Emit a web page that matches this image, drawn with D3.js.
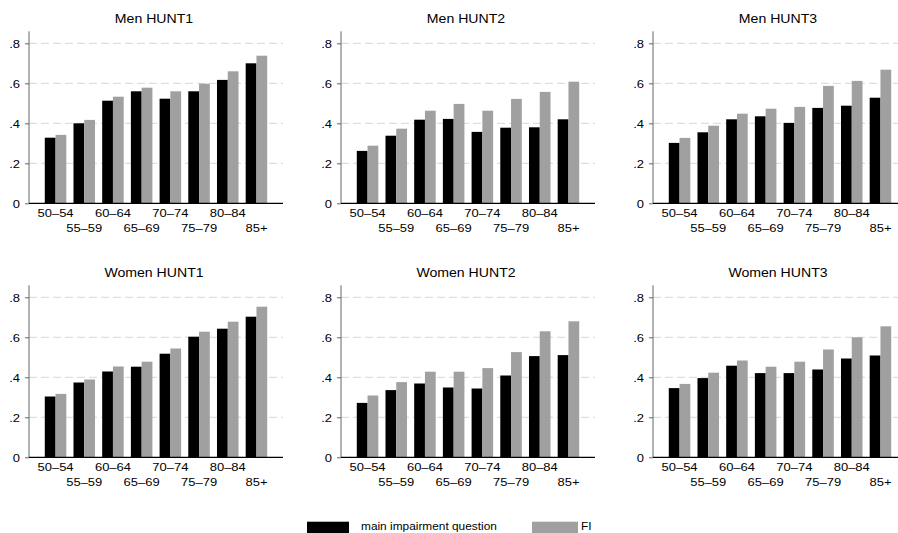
<!DOCTYPE html>
<html>
<head>
<meta charset="utf-8">
<script src="https://cdn.jsdelivr.net/npm/d3@7"></script>
<style>
  body { margin: 0; background: #fff; overflow: hidden; }
  svg { font-family: Arial, "Liberation Sans", sans-serif; display: block; }
</style>
</head>
<body>
<div id="chart"></div>
<script>
// age groups and y ticks
const ageGroups = ["50–54", "55–59", "60–64", "65–69", "70–74", "75–79", "80–84", "85+"];
const yTicks = [0, 0.2, 0.4, 0.6, 0.8];
const seriesNames = ["main impairment question", "FI"];

// panel titles, row by row
const panelTitles = ["Men HUNT1", "Men HUNT2", "Men HUNT3", "Women HUNT1", "Women HUNT2", "Women HUNT3"];

// main impairment question (black bars)
const menHunt1Main = [0.328, 0.400, 0.513, 0.560, 0.523, 0.560, 0.617, 0.700];
const menHunt2Main = [0.262, 0.338, 0.418, 0.422, 0.357, 0.378, 0.380, 0.420];
const menHunt3Main = [0.302, 0.355, 0.420, 0.435, 0.402, 0.477, 0.488, 0.528];
const womenHunt1Main = [0.304, 0.374, 0.429, 0.453, 0.518, 0.603, 0.643, 0.703];
const womenHunt2Main = [0.272, 0.336, 0.369, 0.349, 0.344, 0.409, 0.506, 0.511];
const womenHunt3Main = [0.346, 0.396, 0.458, 0.421, 0.421, 0.439, 0.494, 0.509];

// FI (gray bars)
const menHunt1FI = [0.342, 0.417, 0.533, 0.578, 0.560, 0.598, 0.660, 0.738];
const menHunt2FI = [0.288, 0.373, 0.463, 0.497, 0.463, 0.522, 0.557, 0.608];
const menHunt3FI = [0.327, 0.388, 0.448, 0.473, 0.482, 0.587, 0.612, 0.668];
const womenHunt1FI = [0.317, 0.389, 0.454, 0.478, 0.544, 0.628, 0.678, 0.753];
const womenHunt2FI = [0.309, 0.376, 0.428, 0.428, 0.446, 0.526, 0.630, 0.680];
const womenHunt3FI = [0.367, 0.423, 0.484, 0.453, 0.478, 0.539, 0.600, 0.655];

const mainSeries = [menHunt1Main, menHunt2Main, menHunt3Main, womenHunt1Main, womenHunt2Main, womenHunt3Main];
const fiSeries = [menHunt1FI, menHunt2FI, menHunt3FI, womenHunt1FI, womenHunt2FI, womenHunt3FI];

const width = 898, height = 533;
const colors = ["#000000", "#a0a0a0"];
const stretch = 1.12; // text in the original is a bit wide

const svg = d3.select("#chart")
  .append("svg")
  .attr("width", width)
  .attr("height", height)
  .attr("viewBox", [0, 0, width, height]);

// helper: horizontally stretched text
function wideText(sel, x, y, anchor, size, str) {
  return sel.append("text")
    .attr("transform", `translate(${x},${y}) scale(${stretch},1)`)
    .attr("text-anchor", anchor)
    .attr("font-size", size)
    .text(str);
}

// panel geometry (plot region of each small chart)
const panelW = 254, plotH = 172;
const colX = [29, 341, 653];
const rowBase = [203.3, 457.3];

panelTitles.forEach((title, i) => {
  const left = colX[i % 3];
  const base = rowBase[Math.floor(i / 3)];

  const y = d3.scaleLinear()
    .domain([0, 0.86])
    .range([base, base - plotH]);

  const x = d3.scaleBand()
    .domain(ageGroups)
    .range([left, left + panelW])
    .paddingInner(0.25)
    .paddingOuter(0.55);

  const x1 = d3.scaleBand()
    .domain(seriesNames)
    .range([0, x.bandwidth()]);

  const g = svg.append("g");

  // dashed gridlines
  g.append("g")
    .selectAll("line")
    .data(yTicks.filter(d => d > 0))
    .join("line")
    .attr("x1", left)
    .attr("x2", left + panelW)
    .attr("y1", d => y(d))
    .attr("y2", d => y(d))
    .attr("stroke", "#d8d8d8")
    .attr("stroke-width", 1)
    .attr("stroke-dasharray", "8,4");

  // bars
  const rows = ageGroups.map((a, j) => ({ age: a, vals: [mainSeries[i][j], fiSeries[i][j]] }));
  g.append("g")
    .selectAll("g")
    .data(rows)
    .join("g")
    .attr("transform", d => `translate(${x(d.age)},0)`)
    .selectAll("rect")
    .data(d => d.vals.map((v, k) => ({ key: seriesNames[k], v, k })))
    .join("rect")
    .attr("x", d => x1(d.key))
    .attr("width", x1.bandwidth())
    .attr("y", d => y(d.v))
    .attr("height", d => y(0) - y(d.v))
    .attr("fill", d => colors[d.k]);

  // y axis
  const yAxis = g.append("g")
    .attr("transform", `translate(${left},0)`)
    .call(d3.axisLeft(y).tickValues(yTicks).tickSize(4)
      .tickFormat(d => d === 0 ? "0" : d3.format(".1f")(d).replace(/^0/, "")));
  yAxis.select(".domain").attr("stroke", "#666").attr("d", `M0,${y(0)}V${y(0.86)}`);
  yAxis.selectAll(".tick line").attr("stroke", "#666");
  yAxis.selectAll("text")
    .attr("x", -9 / stretch)
    .attr("transform", `scale(${stretch},1)`)
    .attr("font-size", 11.6)
    .attr("fill", "#000")
    .attr("font-family", "Arial, 'Liberation Sans', sans-serif");

  // x axis baseline
  g.append("line")
    .attr("x1", left)
    .attr("x2", left + panelW)
    .attr("y1", y(0))
    .attr("y2", y(0))
    .attr("stroke", "#000")
    .attr("stroke-width", 1.2);

  // staggered x labels
  ageGroups.forEach((a, j) => {
    wideText(g, x(a) + x.bandwidth() / 2, base + (j % 2 === 0 ? 13.4 : 29), "middle", 11.6, a);
  });

  // title
  wideText(g, left + 125, base - 180, "middle", 12.6, title);
});

// legend
const legend = svg.append("g");
const legendX = [307, 532];
seriesNames.forEach((s, k) => {
  legend.append("rect")
    .attr("x", legendX[k])
    .attr("y", 521.7)
    .attr("width", k === 0 ? 42 : 46)
    .attr("height", 12)
    .attr("fill", colors[k]);
  wideText(legend, legendX[k] + (k === 0 ? 54 : 49), 529.5, "start", 10.6, s);
});
</script>
</body>
</html>
